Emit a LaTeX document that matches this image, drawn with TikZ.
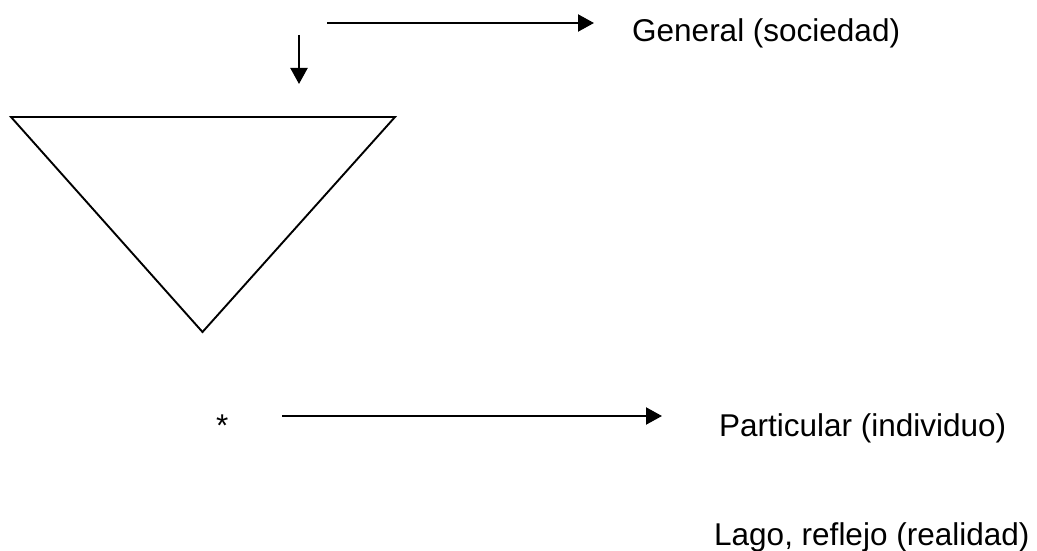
\documentclass[tikz,border=0pt]{standalone}
\usepackage{fontspec}
\setmainfont{Liberation Sans}
\usetikzlibrary{arrows.meta}
\begin{document}
\begin{tikzpicture}[x=1pt,y=-1pt,
  label text/.style={anchor=base west,inner sep=0pt,font=\fontsize{31.5}{38}\selectfont},
  shape line/.style={line width=1.9pt,line join=miter},
  flow arrow/.style={line width=2.1pt,-{Triangle[length=16pt,width=17pt]}}]
  \useasboundingbox (0,0) rectangle (1037,551);

  % inverted triangle
  \coordinate (tl) at (11,117);
  \coordinate (tr) at (395,117);
  \coordinate (tb) at (202.5,332);
  \draw[shape line] (tl) -- (tr) -- (tb) -- cycle;

  % labels
  \node[label text] (general) at (632,42) {General (sociedad)};
  \node[label text] (particular) at (719,436) {Particular (individuo)};
  \node[label text] (lago) at (714,545) {Lago, reflejo (realidad)};
  \node[label text] (star) at (216,436) {*};

  % arrows
  \coordinate (gstart) at (327,23);
  \coordinate (gend) at (594,23);
  \draw[flow arrow] (gstart) -- (gend);

  \coordinate (dstart) at (299,35);
  \coordinate (dend) at (299,84);
  \draw[flow arrow] (dstart) -- (dend);

  \coordinate (pstart) at (282,416);
  \coordinate (pend) at (662,416);
  \draw[flow arrow] (pstart) -- (pend);
\end{tikzpicture}
\end{document}
